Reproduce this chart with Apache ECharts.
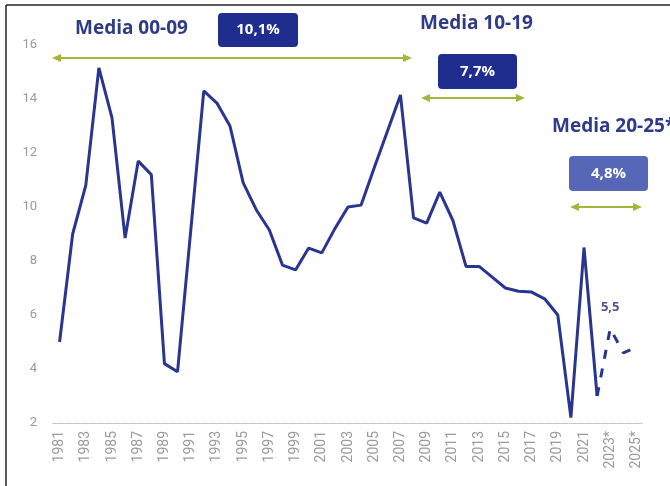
<!DOCTYPE html>
<html>
<head>
<meta charset="utf-8">
<script src="https://cdn.jsdelivr.net/npm/echarts@6/dist/echarts.min.js"></script>
<style>
html,body{margin:0;padding:0;background:#fff;}
#c{width:670px;height:486px;}
</style>
</head>
<body>
<div id="c"></div>
<script>
const years = ['1981','1982','1983','1984','1985','1986','1987','1988','1989','1990',
  '1991','1992','1993','1994','1995','1996','1997','1998','1999','2000',
  '2001','2002','2003','2004','2005','2006','2007','2008','2009','2010',
  '2011','2012','2013','2014','2015','2016','2017','2018','2019','2020',
  '2021','2022','2023*','2024*','2025*'];
const actual = [5.0, 9.0, 10.8, 15.15, 13.3, 8.85, 11.7, 11.2, 4.2, 3.9,
  9.1, 14.3, 13.85, 13.0, 10.9, 9.9, 9.15, 7.85, 7.67, 8.48,
  8.3, 9.2, 10.0, 10.07, 11.45, 12.8, 14.15, 9.6, 9.4, 10.55,
  9.5, 7.8, 7.8, 7.4, 7.0, 6.88, 6.85, 6.6, 6.0, 2.2,
  8.5, 3.0];
const forecast = [3.0, 5.5, 4.6, 4.8];
const forecastLabel = '5,5';
const yTicks = {min: 2, max: 16, interval: 2};

const navy = '#2a3590';
const textNavy = '#2f3b86';
const green = '#a2b63c';

const solidData = actual.slice();
while (solidData.length < years.length) solidData.push(null);
const dashData = years.map(() => null);
const start = actual.length - 1;
forecast.forEach((v, i) => { dashData[start + i] = v; });

function arrow(x1, x2, y) {
  const h = 9, w = 4;
  return [
    {type: 'line', shape: {x1: x1 + 4, y1: y, x2: x2 - 4, y2: y}, style: {stroke: green, lineWidth: 2}},
    {type: 'polygon', shape: {points: [[x1, y], [x1 + h, y - w], [x1 + h, y + w]]}, style: {fill: green}},
    {type: 'polygon', shape: {points: [[x2, y], [x2 - h, y - w], [x2 - h, y + w]]}, style: {fill: green}}
  ];
}
function box(x, y, w, h, txt, color) {
  return [
    {type: 'rect', shape: {x: x, y: y, width: w, height: h, r: 4}, style: {fill: color}},
    {type: 'text', x: x + w / 2, y: y + h / 2, style: {text: txt, fill: '#fff', font: 'bold 15px "Open Sans"', align: 'center', verticalAlign: 'middle'}}
  ];
}
function label(x, y, txt) {
  return {type: 'text', x: x, y: y, style: {text: txt, fill: textNavy, font: 'bold 19px "Open Sans"', align: 'left', verticalAlign: 'middle'}};
}

const graphics = [
  {type: 'line', shape: {x1: 6, y1: 5, x2: 670, y2: 5}, style: {stroke: '#222', lineWidth: 1.5}},
  {type: 'line', shape: {x1: 6, y1: 5, x2: 6, y2: 486}, style: {stroke: '#222', lineWidth: 1.5}},
  label(75, 29, 'Media 00-09'),
  label(420, 24, 'Media 10-19'),
  label(552, 127, 'Media 20-25*'),
  ...box(218, 13, 80, 34, '10,1%', '#1f2d8e'),
  ...box(438, 54, 79, 35, '7,7%', '#1f2d8e'),
  ...box(569, 156, 79, 35, '4,8%', '#5767b8'),
  ...arrow(52, 412, 58),
  ...arrow(421, 525, 98),
  ...arrow(570, 642, 207)
];

const chart = echarts.init(document.getElementById('c'));
chart.setOption({
  animation: false,
  grid: {left: 53, right: 27, top: 45, bottom: 63},
  xAxis: {
    type: 'category', data: years, boundaryGap: true,
    axisLine: {lineStyle: {color: '#bbb', type: 'dotted', width: 1}},
    axisTick: {show: false},
    axisLabel: {interval: 1, rotate: 90, color: '#9a9a9a', fontSize: 14, margin: 8, fontFamily: 'Roboto'}
  },
  yAxis: {
    type: 'value', min: yTicks.min, max: yTicks.max, interval: yTicks.interval,
    axisLine: {show: false}, axisTick: {show: false}, splitLine: {show: false},
    axisLabel: {color: '#9a9a9a', fontSize: 13, margin: 16, fontFamily: 'Roboto'}
  },
  series: [
    {type: 'line', data: solidData, showSymbol: false, symbol: 'none', lineStyle: {color: navy, width: 3}, z: 3},
    {type: 'line', data: dashData, showSymbol: false, symbol: 'none',
      lineStyle: {color: navy, width: 3, type: [9, 10]}, z: 3,
      markPoint: {
        symbol: 'rect', symbolSize: [1, 1], itemStyle: {color: 'rgba(0,0,0,0)'},
        label: {show: true, position: 'top', distance: 14, color: '#4a5591', fontWeight: 'bold', fontSize: 13, fontFamily: 'Open Sans',
          formatter: () => forecastLabel},
        data: [{coord: [years[start + 1], forecast[1]]}]
      }}
  ],
  graphic: graphics
});
</script>
</body>
</html>
